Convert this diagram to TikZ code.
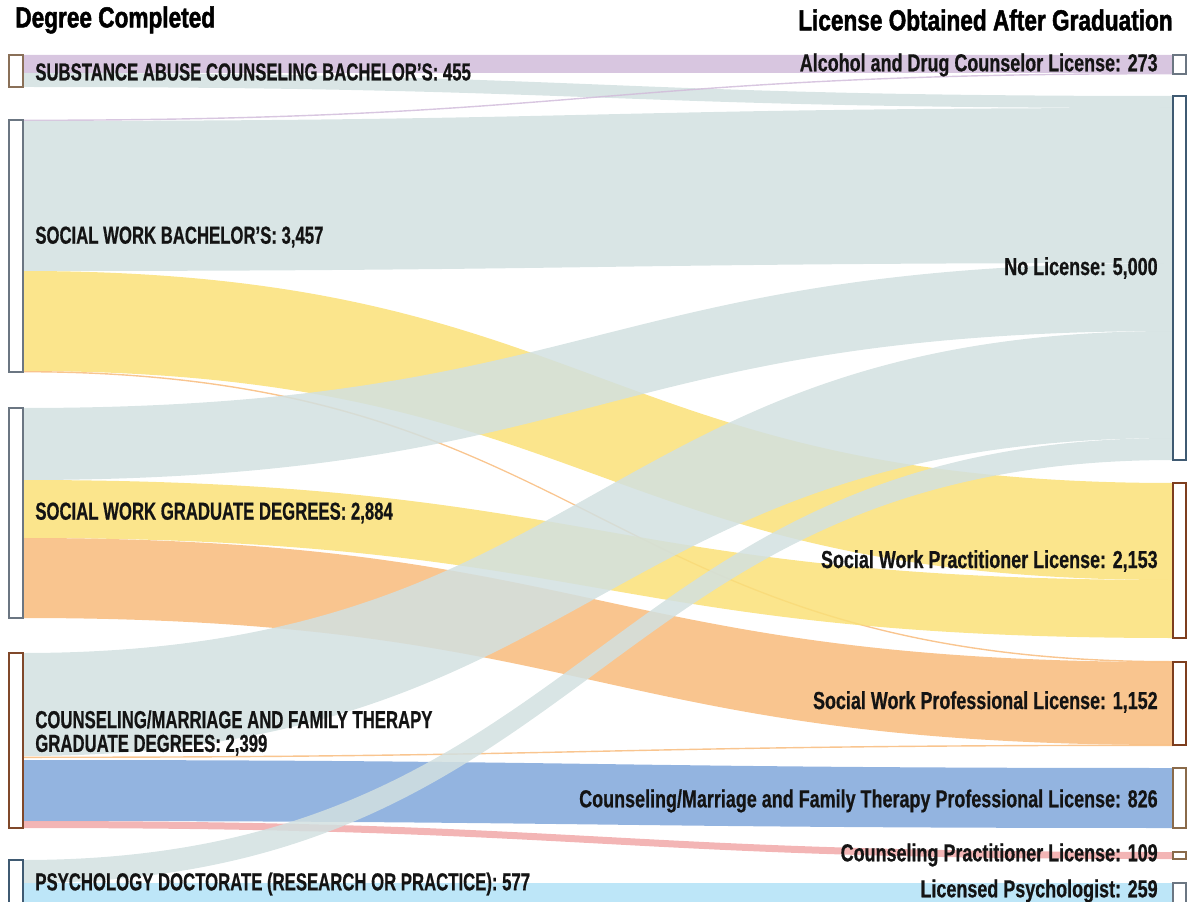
\documentclass[tikz,border=0pt]{standalone}
\usepackage{fontspec}
\setmainfont[FakeStretch=0.68, BoldFeatures={FakeBold=0.6}]{Liberation Sans}
\newfontfamily\licfont[FakeStretch=0.73, BoldFeatures={FakeBold=0.6}]{Liberation Sans}
\newfontfamily\headfont[FakeStretch=0.78, BoldFeatures={FakeBold=1.6}]{Liberation Sans}
\usepackage{xcolor}
\usetikzlibrary{positioning}

\definecolor{flowgrey}{HTML}{D2E0E0}
\definecolor{flowpurple}{HTML}{D1BCDA}
\definecolor{flowyellow}{HTML}{FAE078}
\definecolor{floworange}{HTML}{F8BB7B}
\definecolor{flowblue}{HTML}{80A7DB}
\definecolor{flowpink}{HTML}{F1A8A8}
\definecolor{flowsky}{HTML}{B2E2F7}
\definecolor{edgetan}{HTML}{8A7058}
\definecolor{edgeslate}{HTML}{6B7682}
\definecolor{edgerust}{HTML}{7E3E1E}
\definecolor{edgebrown}{HTML}{8A6A4A}
\definecolor{edgenavy}{HTML}{3F5A72}

% ribbon from the degree column (x=23) to the licence column (x=1173)
% #1 colour, #2/#3 top/bottom on the left, #4/#5 top/bottom on the right
\newcommand{\ribbon}[5]{%
  \fill[#1, fill opacity=0.85] (23,#2) .. controls (598,#2) and (598,#4) .. (1173,#4)
    -- (1173,#5) .. controls (598,#5) and (598,#3) .. (23,#3) -- cycle;}

\tikzset{
  bar/.style={draw=#1, fill=white, line width=0.9pt},
  degree/.style={anchor=west, font=\bfseries\fontsize{14}{13.5}\selectfont, text=black!92, inner sep=0pt, align=left},
  licence/.style={anchor=east, font=\licfont\bfseries\fontsize{14}{13.5}\selectfont, text=black!92, inner sep=0pt},
  heading/.style={font=\headfont\bfseries\fontsize{16.5}{16}\selectfont, text=black, inner sep=0pt}
}

\begin{document}
\begin{tikzpicture}[x=0.02cm, y=-0.02cm]
	\clip (0,0) rectangle (1187,902);
	% flows
	\ribbon{flowpurple}{55}{73}{55}{73}
	\ribbon{flowgrey}{73}{87}{96}{108}
	\ribbon{flowpurple}{119.6}{121}{73}{74.4}
	\ribbon{flowgrey}{121}{271}{108}{263}
	\ribbon{flowyellow}{271}{371}{483}{580}
	\ribbon{floworange}{371}{372.4}{661}{662.4}
	\ribbon{flowgrey}{408}{480}{263}{331}
	\ribbon{flowyellow}{480}{538}{580}{638}
	\ribbon{floworange}{538}{618}{662}{745}
	\ribbon{flowgrey}{653}{756}{331}{438}
	\ribbon{floworange}{756.6}{758}{744.6}{746}
	\ribbon{flowblue}{760}{821}{768}{828}
	\ribbon{flowpink}{821}{828}{852}{859}
	\ribbon{flowgrey}{860}{883}{438}{460}
	\ribbon{flowsky}{883}{905}{883}{905}

	% degree bars
	\draw[bar=edgetan] (9,55) rectangle (23,87);
	\draw[bar=edgeslate] (9,120) rectangle (23,372);
	\draw[bar=edgeslate] (9,408) rectangle (23,618);
	\draw[bar=edgerust!80!edgetan] (9,653) rectangle (23,828);
	\draw[bar=edgenavy] (9,860) rectangle (23,906);

	% licence bars
	\draw[bar=edgeslate] (1173,55) rectangle (1186,74);
	\draw[bar=edgenavy] (1173,96) rectangle (1186,460);
	\draw[bar=edgerust] (1173,483) rectangle (1186,638);
	\draw[bar=edgerust] (1173,662) rectangle (1186,745);
	\draw[bar=edgebrown] (1173,768) rectangle (1186,828);
	\draw[bar=edgebrown] (1173,852) rectangle (1186,859);
	\draw[bar=edgeslate] (1173,883) rectangle (1186,906);

	% headings
	\node[heading, anchor=west] (lefthead) at (15,20) {Degree Completed};
	\node[heading, anchor=east] (righthead) at (1173,20) {License Obtained After Graduation};

	% degree labels
	\node[degree] (sab) at (35,72) {SUBSTANCE ABUSE COUNSELING BACHELOR’S: 455};
	\node[degree] (swb) at (35,237) {SOCIAL WORK BACHELOR’S: 3,457};
	\node[degree] (swg) at (35,513) {SOCIAL WORK GRADUATE DEGREES: 2,884};
	\node[degree] (cmft) at (35,733) {COUNSELING/MARRIAGE AND FAMILY THERAPY\\GRADUATE DEGREES: 2,399};
	\node[degree] (psy) at (35,884) {PSYCHOLOGY DOCTORATE (RESEARCH OR PRACTICE): 577};

	% licence labels
	\node[licence] (adc) at (1158,65) {Alcohol and Drug Counselor License: 273};
	\node[licence] (nol) at (1158,268) {No License: 5,000};
	\node[licence] (swpr) at (1158,561) {Social Work Practitioner License: 2,153};
	\node[licence] (swpf) at (1158,702) {Social Work Professional License: 1,152};
	\node[licence] (cmfp) at (1158,801) {Counseling/Marriage and Family Therapy Professional License: 826};
	\node[licence] (cpl) at (1158,855) {Counseling Practitioner License: 109};
	\node[licence] (lpsy) at (1158,891) {Licensed Psychologist: 259};
\end{tikzpicture}
\end{document}
